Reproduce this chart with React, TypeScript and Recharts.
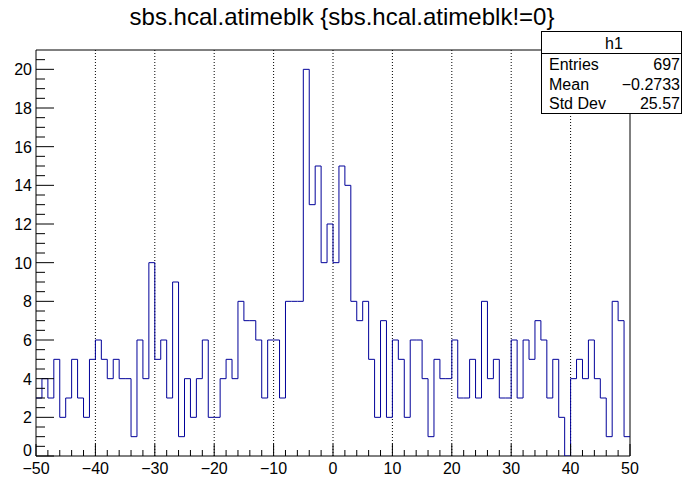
import React from 'react';
import { ComposedChart, Line, XAxis, YAxis, ReferenceLine, ReferenceArea } from 'recharts';

// Histogram h1: 100 bins of width 1 from -50 to 50
const binLowEdges: number[] = Array.from({ length: 100 }, (_, i) => -50 + i);
const counts: number[] = [
  3, 4, 3, 5, 2, 3, 5, 3, 2, 5, 6, 5, 4, 5, 4, 4, 1,
  6, 4, 10, 5, 6, 3, 9, 1, 4, 2, 4, 6, 2, 2, 4, 5, 4,
  8, 7, 7, 6, 3, 6, 6, 3, 8, 8, 8, 20, 13, 15, 10, 12, 10,
  15, 14, 8, 7, 8, 5, 2, 7, 2, 6, 5, 2, 6, 6, 4, 1,
  5, 4, 4, 6, 3, 3, 5, 3, 8, 4, 5, 3, 3, 6, 3, 6, 5,
  7, 6, 3, 5, 2, 0, 4, 5, 4, 6, 4, 3, 1, 8, 7, 1,
];
const xMajorLabels: number[] = [-50, -40, -30, -20, -10, 0, 10, 20, 30, 40, 50];
const xMinorTicks: number[] = Array.from({ length: 51 }, (_, i) => -50 + 2 * i);
const xGridLines: number[] = [-40, -30, -20, -10, 0, 10, 20, 30, 40];
const yMajorLabels: number[] = [0, 2, 4, 6, 8, 10, 12, 14, 16, 18, 20];
const yMinorTicks: number[] = Array.from({ length: 42 }, (_, i) => i * 0.5);

const title = 'sbs.hcal.atimeblk {sbs.hcal.atimeblk!=0}';
const statsName = 'h1';
const statsLabels: string[] = ['Entries', 'Mean', 'Std Dev'];
const statsValues: string[] = ['697', '\u22120.2733', '25.57'];

const data = [
  ...binLowEdges.map((x, i) => ({ x, y: counts[i] })),
  { x: 50, y: counts[counts.length - 1] },
];

const FONT = '"Liberation Sans", Arial, Helvetica, sans-serif';
const fmt = (v: number) => (v < 0 ? '\u2212' + Math.abs(v) : String(v));

const XTick = (props: any) => {
  const { x, y, payload } = props;
  const v = payload.value;
  const major = xMajorLabels.includes(v);
  return (
    <g>
      <line x1={x} x2={x} y1={y} y2={y - (major ? 12 : 6)} stroke="#000" strokeWidth={1} />
      {major && (
        <text x={x} y={y + 18} textAnchor="middle" fontFamily={FONT} fontSize={16} fill="#000">
          {fmt(v)}
        </text>
      )}
    </g>
  );
};

const YTick = (props: any) => {
  const { x, y, payload } = props;
  const v = payload.value;
  const major = yMajorLabels.includes(v);
  return (
    <g>
      <line x1={x} x2={x + (major ? 18 : 9)} y1={y} y2={y} stroke="#000" strokeWidth={1} />
      {major && (
        <text x={x - 4} y={y + (v === 0 ? 0 : 6)} textAnchor="end" fontFamily={FONT} fontSize={16} fill="#000">
          {fmt(v)}
        </text>
      )}
    </g>
  );
};

export default function App() {
  return (
    <div style={{ position: 'absolute', left: 0, top: 0, width: 683, height: 479, background: '#fff' }}>
      <ComposedChart
        width={683}
        height={479}
        data={data}
        margin={{ top: 50, right: 53, bottom: 0, left: 0 }}
      >
        <XAxis
          dataKey="x"
          type="number"
          domain={[-50, 50]}
          ticks={xMinorTicks}
          interval={0}
          tickSize={0}
          tickMargin={0}
          axisLine={false}
          tickLine={false}
          tick={<XTick />}
          height={23}
          allowDataOverflow
        />
        <YAxis
          type="number"
          domain={[0, 21]}
          ticks={yMinorTicks}
          interval={0}
          tickSize={0}
          tickMargin={0}
          axisLine={false}
          tickLine={false}
          tick={<YTick />}
          width={36}
          allowDataOverflow
        />
        {xGridLines.map((g) => (
          <ReferenceLine key={g} x={g} stroke="#000" strokeWidth={1} strokeDasharray="1 2" />
        ))}
        <Line
          type="stepAfter"
          dataKey="y"
          stroke="#000099"
          strokeWidth={1}
          dot={false}
          activeDot={false}
          isAnimationActive={false}
        />
        <ReferenceArea x1={-50} x2={50} y1={0} y2={21} fill="none" stroke="#000" strokeWidth={1} />
      </ComposedChart>
      <svg
        width={683}
        height={479}
        style={{ position: 'absolute', left: 0, top: 0, pointerEvents: 'none' }}
      >
        <text x={342} y={25} textAnchor="middle" fontFamily={FONT} fontSize={24} fill="#000">
          {title}
        </text>
        <rect x={541.5} y={31.5} width={140} height={82} fill="#fff" stroke="#000" strokeWidth={1} />
        <line x1={541.5} x2={681.5} y1={53.5} y2={53.5} stroke="#000" strokeWidth={1} />
        <text x={614} y={49} textAnchor="middle" fontFamily={FONT} fontSize={16} fill="#000">
          {statsName}
        </text>
        {statsLabels.map((l, i) => (
          <g key={l}>
            <text x={549} y={70 + i * 19.5} fontFamily={FONT} fontSize={16} fill="#000">
              {l}
            </text>
            <text x={680} y={70 + i * 19.5} textAnchor="end" fontFamily={FONT} fontSize={16} fill="#000">
              {statsValues[i]}
            </text>
          </g>
        ))}
      </svg>
    </div>
  );
}
